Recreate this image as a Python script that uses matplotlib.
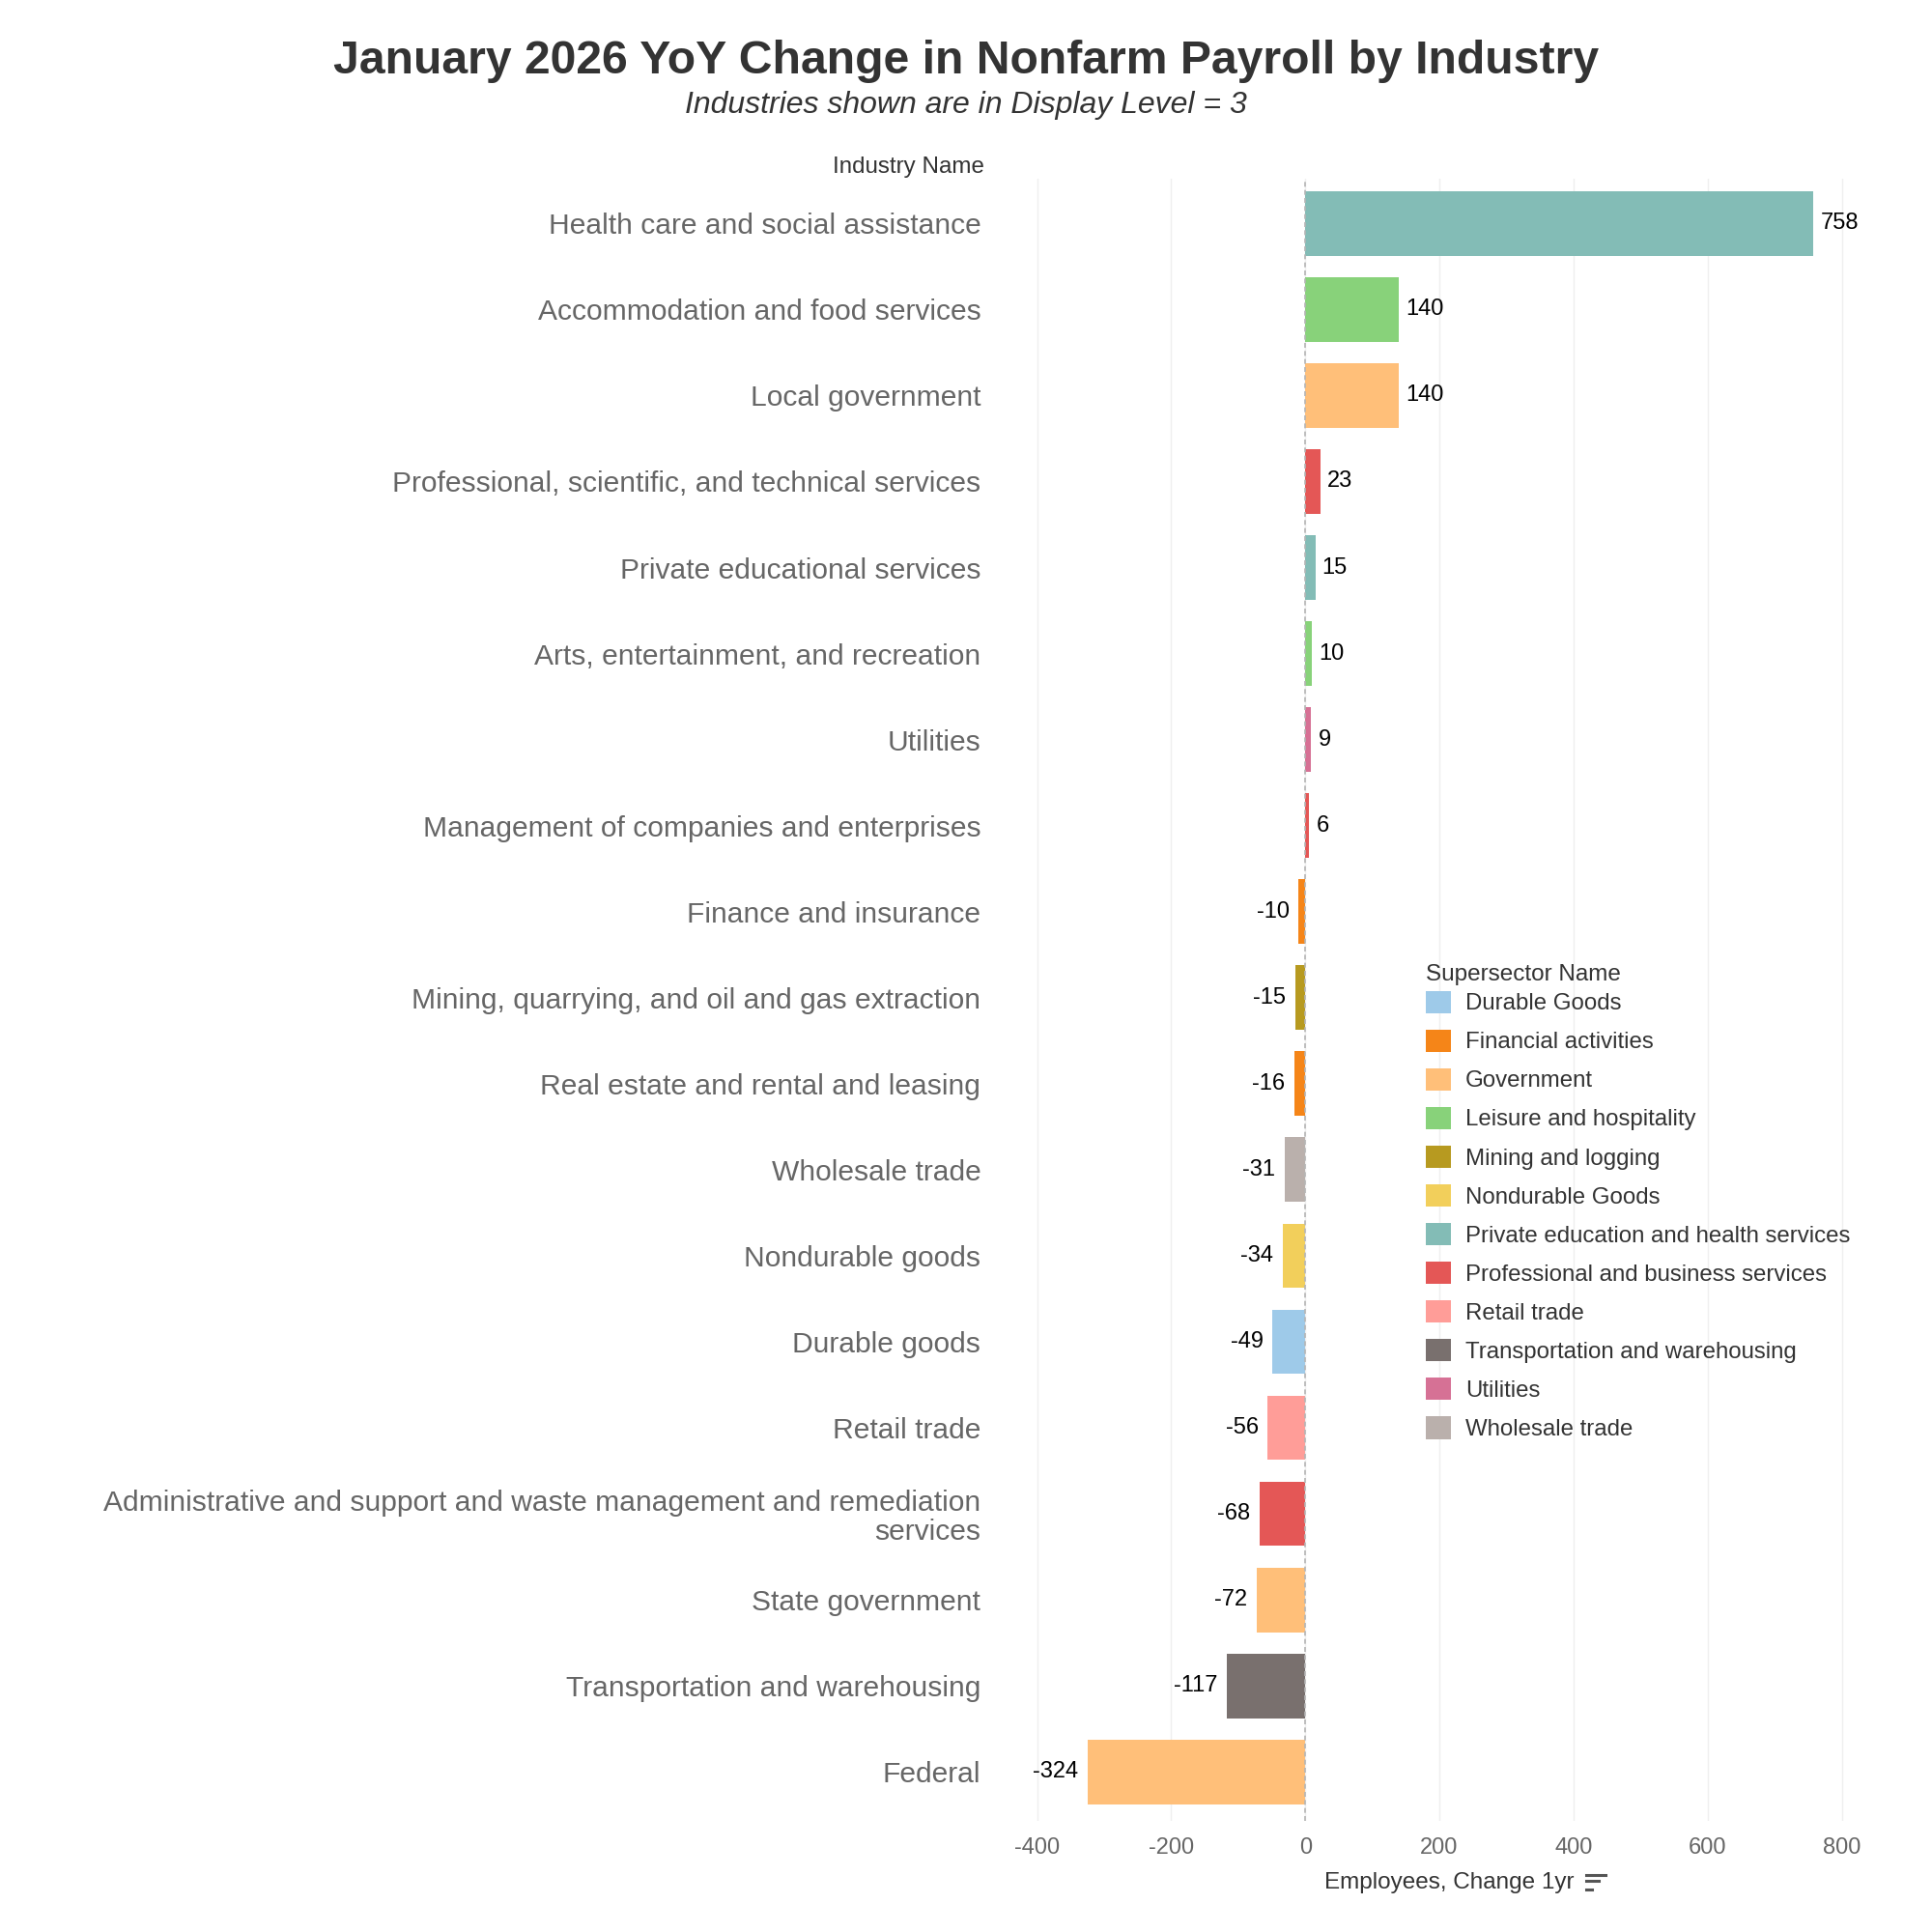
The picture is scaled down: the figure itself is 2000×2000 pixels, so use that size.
import matplotlib.pyplot as plt
from matplotlib.patches import Patch
from matplotlib.lines import Line2D

industries = [
    "Health care and social assistance",
    "Accommodation and food services",
    "Local government",
    "Professional, scientific, and technical services",
    "Private educational services",
    "Arts, entertainment, and recreation",
    "Utilities",
    "Management of companies and enterprises",
    "Finance and insurance",
    "Mining, quarrying, and oil and gas extraction",
    "Real estate and rental and leasing",
    "Wholesale trade",
    "Nondurable goods",
    "Durable goods",
    "Retail trade",
    "Administrative and support and waste management and remediation\nservices",
    "State government",
    "Transportation and warehousing",
    "Federal",
]
changes = [758, 140, 140, 23, 15, 10, 9, 6, -10, -15, -16, -31, -34, -49, -56, -68, -72, -117, -324]
supersectors = [
    "Private education and health services",
    "Leisure and hospitality",
    "Government",
    "Professional and business services",
    "Private education and health services",
    "Leisure and hospitality",
    "Utilities",
    "Professional and business services",
    "Financial activities",
    "Mining and logging",
    "Financial activities",
    "Wholesale trade",
    "Nondurable Goods",
    "Durable Goods",
    "Retail trade",
    "Professional and business services",
    "Government",
    "Transportation and warehousing",
    "Government",
]

legend_names = [
    "Durable Goods", "Financial activities", "Government", "Leisure and hospitality",
    "Mining and logging", "Nondurable Goods", "Private education and health services",
    "Professional and business services", "Retail trade", "Transportation and warehousing",
    "Utilities", "Wholesale trade",
]
legend_colors = [
    "#9ecae9", "#f58518", "#ffbf79", "#88d27a", "#b79a20", "#f2cf5b",
    "#83bcb6", "#e45756", "#ff9d98", "#79706e", "#d67195", "#bab0ac",
]
color_map = dict(zip(legend_names, legend_colors))

plt.rcParams['font.family'] = ['Liberation Sans', 'DejaVu Sans']
plt.rcParams['axes.unicode_minus'] = False

fig = plt.figure(figsize=(20, 20), dpi=100)
ax = fig.add_axes([0.5125, 0.0575, 0.472, 0.85])

ypos = list(range(len(industries)))
bar_colors = [color_map[s] for s in supersectors]
ax.barh(ypos, changes, height=0.75, color=bar_colors, zorder=2)

for y, v in zip(ypos, changes):
    if v >= 0:
        ax.annotate(str(v), (v, y), xytext=(5, 0), textcoords='offset points',
                    ha='left', va='center', fontsize=17, color='black')
    else:
        ax.annotate(str(v), (v, y), xytext=(-7, 0), textcoords='offset points',
                    ha='right', va='center', fontsize=17, color='black')

ax.set_xlim(-470, 890)
ax.set_ylim(len(industries) - 0.43, -0.52)
ax.set_xticks([-400, -200, 0, 200, 400, 600, 800])
ax.tick_params(axis='x', labelsize=17, colors='#666666', length=0, pad=12)
ax.set_yticks(ypos)
ax.set_yticklabels(industries, fontsize=21.6, color='#666666', linespacing=1.1)
ax.tick_params(axis='y', length=0, pad=7)
ax.grid(axis='x', color='#efefef', linewidth=1.0, zorder=0)
ax.axvline(0, color='#b5b5b5', linestyle=(0, (3, 2)), linewidth=1.2, zorder=3)
for s in ax.spines.values():
    s.set_visible(False)

fig.text(0.5095, 0.9135, "Industry Name", ha='right', va='center', fontsize=17.4,
         color='#333333')

fig.text(0.5, 0.9685, "January 2026 YoY Change in Nonfarm Payroll by Industry",
         ha='center', va='center', fontsize=34.7, fontweight='bold', color='#333333')
fig.text(0.5, 0.9455, "Industries shown are in Display Level = 3",
         ha='center', va='center', fontsize=23, fontstyle='italic', color='#333333')

fig.text(0.75, 0.0255, "Employees, Change 1yr", ha='center', va='center',
         fontsize=17.5, color='#333333')
# sort icon next to axis title
for yy, x1 in [(0.0295, 0.831), (0.0265, 0.8275), (0.0220, 0.824)]:
    fig.add_artist(Line2D([0.821, x1], [yy, yy], color='#555555', linewidth=2.2,
                          transform=fig.transFigure))

handles = [Patch(facecolor=c, edgecolor='none') for c in legend_colors]
leg = fig.legend(handles, legend_names, loc='upper left', bbox_to_anchor=(0.738, 0.501),
                 frameon=False, fontsize=17.3, title="Supersector Name", title_fontsize=17.5,
                 handlelength=1.1, handleheight=1.1, labelspacing=0.64, handletextpad=0.6,
                 borderpad=0, borderaxespad=0, alignment='left')
for t in leg.get_texts():
    t.set_color('#333333')
leg.get_title().set_color('#333333')
leg._legend_box.sep = 4

fig.savefig("out.png", dpi=100, facecolor='white')
